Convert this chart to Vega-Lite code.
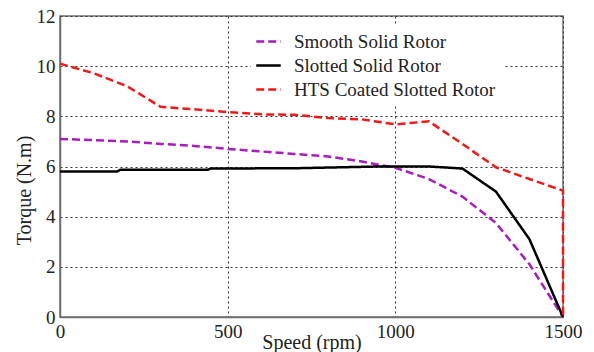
{
  "$schema": "https://vega.github.io/schema/vega-lite/v6.json",
  "width": 503,
  "height": 301,
  "autosize": {"type": "none"},
  "padding": {"left": 60, "top": 16, "right": 31, "bottom": 35},
  "background": "white",
  "config": {
    "view": {"stroke": "#6e6e6e", "strokeWidth": 1.5},
    "font": "Liberation Serif, Times New Roman, serif"
  },
  "data": {
    "values": [
      {"series": "Smooth Solid Rotor", "speed": 0, "torque": 7.1, "i": 0},
      {"series": "Smooth Solid Rotor", "speed": 100, "torque": 7.05, "i": 1},
      {"series": "Smooth Solid Rotor", "speed": 200, "torque": 7.0, "i": 2},
      {"series": "Smooth Solid Rotor", "speed": 300, "torque": 6.9, "i": 3},
      {"series": "Smooth Solid Rotor", "speed": 400, "torque": 6.82, "i": 4},
      {"series": "Smooth Solid Rotor", "speed": 500, "torque": 6.7, "i": 5},
      {"series": "Smooth Solid Rotor", "speed": 600, "torque": 6.6, "i": 6},
      {"series": "Smooth Solid Rotor", "speed": 700, "torque": 6.5, "i": 7},
      {"series": "Smooth Solid Rotor", "speed": 800, "torque": 6.4, "i": 8},
      {"series": "Smooth Solid Rotor", "speed": 900, "torque": 6.2, "i": 9},
      {"series": "Smooth Solid Rotor", "speed": 1000, "torque": 5.95, "i": 10},
      {"series": "Smooth Solid Rotor", "speed": 1100, "torque": 5.5, "i": 11},
      {"series": "Smooth Solid Rotor", "speed": 1200, "torque": 4.8, "i": 12},
      {"series": "Smooth Solid Rotor", "speed": 1300, "torque": 3.75, "i": 13},
      {"series": "Smooth Solid Rotor", "speed": 1400, "torque": 2.1, "i": 14},
      {"series": "Smooth Solid Rotor", "speed": 1500, "torque": 0, "i": 15},
      {"series": "Slotted Solid Rotor", "speed": 0, "torque": 5.8, "i": 0},
      {"series": "Slotted Solid Rotor", "speed": 170, "torque": 5.8, "i": 1},
      {"series": "Slotted Solid Rotor", "speed": 180, "torque": 5.87, "i": 2},
      {"series": "Slotted Solid Rotor", "speed": 440, "torque": 5.87, "i": 3},
      {"series": "Slotted Solid Rotor", "speed": 450, "torque": 5.92, "i": 4},
      {"series": "Slotted Solid Rotor", "speed": 700, "torque": 5.93, "i": 5},
      {"series": "Slotted Solid Rotor", "speed": 950, "torque": 6.0, "i": 6},
      {"series": "Slotted Solid Rotor", "speed": 1100, "torque": 6.0, "i": 7},
      {"series": "Slotted Solid Rotor", "speed": 1200, "torque": 5.92, "i": 8},
      {"series": "Slotted Solid Rotor", "speed": 1300, "torque": 5.0, "i": 9},
      {"series": "Slotted Solid Rotor", "speed": 1400, "torque": 3.1, "i": 10},
      {"series": "Slotted Solid Rotor", "speed": 1500, "torque": 0, "i": 11},
      {"series": "HTS Coated Slotted  Rotor", "speed": 0, "torque": 10.1, "i": 0},
      {"series": "HTS Coated Slotted  Rotor", "speed": 100, "torque": 9.72, "i": 1},
      {"series": "HTS Coated Slotted  Rotor", "speed": 200, "torque": 9.2, "i": 2},
      {"series": "HTS Coated Slotted  Rotor", "speed": 300, "torque": 8.38, "i": 3},
      {"series": "HTS Coated Slotted  Rotor", "speed": 400, "torque": 8.28, "i": 4},
      {"series": "HTS Coated Slotted  Rotor", "speed": 500, "torque": 8.17, "i": 5},
      {"series": "HTS Coated Slotted  Rotor", "speed": 600, "torque": 8.08, "i": 6},
      {"series": "HTS Coated Slotted  Rotor", "speed": 700, "torque": 8.06, "i": 7},
      {"series": "HTS Coated Slotted  Rotor", "speed": 800, "torque": 7.93, "i": 8},
      {"series": "HTS Coated Slotted  Rotor", "speed": 900, "torque": 7.88, "i": 9},
      {"series": "HTS Coated Slotted  Rotor", "speed": 1000, "torque": 7.68, "i": 10},
      {"series": "HTS Coated Slotted  Rotor", "speed": 1100, "torque": 7.8, "i": 11},
      {"series": "HTS Coated Slotted  Rotor", "speed": 1200, "torque": 6.9, "i": 12},
      {"series": "HTS Coated Slotted  Rotor", "speed": 1300, "torque": 5.97, "i": 13},
      {"series": "HTS Coated Slotted  Rotor", "speed": 1400, "torque": 5.5, "i": 14},
      {"series": "HTS Coated Slotted  Rotor", "speed": 1500, "torque": 5.04, "i": 15},
      {"series": "HTS Coated Slotted  Rotor", "speed": 1500, "torque": 0, "i": 16}
    ]
  },
  "mark": {"type": "line", "strokeWidth": 2.5},
  "encoding": {
    "x": {
      "field": "speed",
      "type": "quantitative",
      "scale": {"domain": [0, 1500], "nice": false},
      "axis": {
        "values": [0, 500, 1000, 1500],
        "format": "d",
        "title": "Speed (rpm)",
        "titleFont": "Liberation Serif, Times New Roman, serif",
        "titleFontSize": 20,
        "titleFontWeight": "normal",
        "titleColor": "#222",
        "titleBaseline": "alphabetic",
        "titleY": 31,
        "labelFont": "Liberation Serif, Times New Roman, serif",
        "labelFontSize": 19,
        "labelColor": "#222",
        "labelPadding": 5,
        "labelFlush": false,
        "ticks": false,
        "domainColor": "#6e6e6e",
        "domainWidth": 1.5,
        "gridColor": "#333",
        "gridDash": [2, 3],
        "gridWidth": 1,
        "gridOpacity": 1
      }
    },
    "y": {
      "field": "torque",
      "type": "quantitative",
      "scale": {"domain": [0, 12], "nice": false},
      "axis": {
        "values": [0, 2, 4, 6, 8, 10, 12],
        "title": "Torque (N.m)",
        "titleFont": "Liberation Serif, Times New Roman, serif",
        "titleFontSize": 20,
        "titleFontWeight": "normal",
        "titleColor": "#222",
        "titleBaseline": "alphabetic",
        "titleX": -30,
        "titleY": 174,
        "labelFont": "Liberation Serif, Times New Roman, serif",
        "labelFontSize": 19,
        "labelColor": "#222",
        "labelPadding": 5,
        "labelFlush": false,
        "ticks": false,
        "domainColor": "#6e6e6e",
        "domainWidth": 1.5,
        "gridColor": "#333",
        "gridDash": [2, 3],
        "gridWidth": 1,
        "gridOpacity": 1
      }
    },
    "color": {
      "field": "series",
      "type": "nominal",
      "scale": {
        "domain": ["Smooth Solid Rotor", "Slotted Solid Rotor", "HTS Coated Slotted  Rotor"],
        "range": ["#a81cc0", "#000000", "#f01818"]
      },
      "legend": {
        "title": null,
        "orient": "none",
        "legendX": 191,
        "legendY": 8,
        "padding": 4,
        "fillColor": "white",
        "symbolType": "stroke",
        "symbolSize": 600,
        "symbolStrokeWidth": 2.5,
        "labelFont": "Liberation Serif, Times New Roman, serif",
        "labelFontSize": 19,
        "labelColor": "#222",
        "labelOffset": 12,
        "labelLimit": 400,
        "rowPadding": 0
      }
    },
    "strokeDash": {
      "field": "series",
      "type": "nominal",
      "scale": {
        "domain": ["Smooth Solid Rotor", "Slotted Solid Rotor", "HTS Coated Slotted  Rotor"],
        "range": [[8, 4], [1, 0], [8, 4]]
      },
      "legend": {
        "title": null,
        "orient": "none",
        "legendX": 191,
        "legendY": 8,
        "padding": 4,
        "fillColor": "white",
        "symbolType": "stroke",
        "symbolSize": 600,
        "symbolStrokeWidth": 2.5,
        "labelFont": "Liberation Serif, Times New Roman, serif",
        "labelFontSize": 19,
        "labelColor": "#222",
        "labelOffset": 12,
        "labelLimit": 400,
        "rowPadding": 0
      }
    },
    "order": {"field": "i", "type": "quantitative"}
  }
}
